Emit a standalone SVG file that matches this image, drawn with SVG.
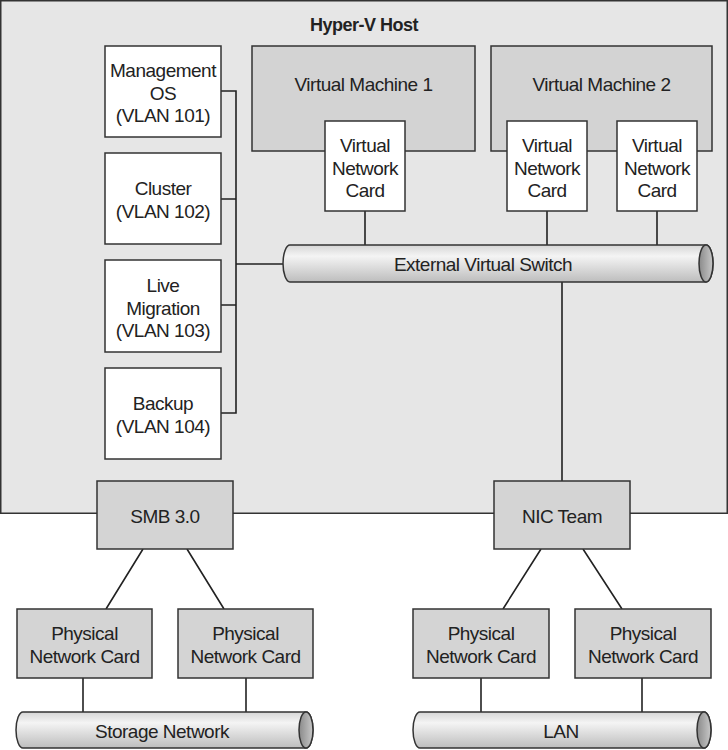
<svg xmlns="http://www.w3.org/2000/svg" width="728" height="750" viewBox="0 0 728 750">
<defs>
<linearGradient id="cyl" x1="0" y1="0" x2="0" y2="1">
<stop offset="0" stop-color="#d6d6d6"/>
<stop offset="0.3" stop-color="#f4f4f4"/>
<stop offset="1" stop-color="#bdbdbd"/>
</linearGradient>
<linearGradient id="capg" x1="0" y1="0" x2="1" y2="0">
<stop offset="0" stop-color="#8a8a8a"/>
<stop offset="1" stop-color="#c8c8c8"/>
</linearGradient>
<style>
text{font-family:"Liberation Sans",Arial,sans-serif;font-size:19px;letter-spacing:-0.5px;fill:#222;text-anchor:middle}
.b{font-weight:bold;font-size:18px}
.host{fill:#e6e6e6;stroke:#333;stroke-width:1.5}
.vm{fill:#d3d3d3;stroke:#333;stroke-width:1.5}
.w{fill:#fff;stroke:#333;stroke-width:1.5}
.g{fill:#d4d4d4;stroke:#333;stroke-width:1.5}
.cyl{fill:url(#cyl);stroke:#333;stroke-width:1.5}
.cap{fill:url(#capg);stroke:#333;stroke-width:1.5}
.ln{fill:none;stroke:#222;stroke-width:1.6}
</style>
</defs>
<g id="host">
<rect class="host" x="0.75" y="0.75" width="726.5" height="512.5"/>
<text class="b" x="364" y="31">Hyper-V Host</text>
</g>
<g id="vm1">
<rect class="vm" x="252" y="46" width="223" height="105"/>
<text x="363.5" y="91">Virtual Machine 1</text>
</g>
<g id="vm2">
<rect class="vm" x="491" y="46" width="221" height="105"/>
<text x="601.5" y="91">Virtual Machine 2</text>
</g>
<g id="connectors">
<path class="ln" d="M221 91H236V413H221M221 199H236M221 305H236M236 264H284"/>
<path class="ln" d="M365 211V245M547 211V245M657 211V245M562 282V481"/>
<path class="ln" d="M143 549L106 609M187 549L224 609M541 549L503 609M583 549L622 609"/>
<path class="ln" d="M83 678V712M246 678V712M481 678V712M642 678V712"/>
</g>
<g id="mgmt">
<rect class="w" x="105" y="46" width="116" height="91"/>
<text x="163" y="77">Management</text>
<text x="163" y="99.5">OS</text>
<text x="163" y="122">(VLAN 101)</text>
</g>
<g id="cluster">
<rect class="w" x="105" y="153" width="116" height="91"/>
<text x="163" y="195">Cluster</text>
<text x="163" y="218">(VLAN 102)</text>
</g>
<g id="livemig">
<rect class="w" x="105" y="260" width="116" height="92"/>
<text x="163" y="292">Live</text>
<text x="163" y="314.5">Migration</text>
<text x="163" y="337">(VLAN 103)</text>
</g>
<g id="backup">
<rect class="w" x="105" y="368" width="116" height="91"/>
<text x="163" y="410">Backup</text>
<text x="163" y="433">(VLAN 104)</text>
</g>
<g id="vnic1">
<rect class="w" x="325" y="121" width="80" height="90"/>
<text x="365" y="152">Virtual</text>
<text x="365" y="174.5">Network</text>
<text x="365" y="197">Card</text>
</g>
<g id="vnic2">
<rect class="w" x="507" y="121" width="80" height="90"/>
<text x="547" y="152">Virtual</text>
<text x="547" y="174.5">Network</text>
<text x="547" y="197">Card</text>
</g>
<g id="vnic3">
<rect class="w" x="617" y="121" width="80" height="90"/>
<text x="657" y="152">Virtual</text>
<text x="657" y="174.5">Network</text>
<text x="657" y="197">Card</text>
</g>
<g id="switch">
<path class="cyl" d="M290 245H706A7 18.5 0 0 1 706 282H290A7 18.5 0 0 1 290 245Z"/>
<ellipse class="cap" cx="706" cy="263.5" rx="7" ry="18.5"/>
<text x="483" y="271">External Virtual Switch</text>
</g>
<g id="smb">
<rect class="g" x="97" y="481" width="136" height="68"/>
<text x="165" y="523">SMB 3.0</text>
</g>
<g id="nicteam">
<rect class="g" x="494" y="481" width="136" height="68"/>
<text x="562" y="523">NIC Team</text>
</g>
<g id="pnic1">
<rect class="g" x="17" y="609" width="135" height="69"/>
<text x="84.5" y="640">Physical</text>
<text x="84.5" y="662.5">Network Card</text>
</g>
<g id="pnic2">
<rect class="g" x="178" y="609" width="135" height="69"/>
<text x="245.5" y="640">Physical</text>
<text x="245.5" y="662.5">Network Card</text>
</g>
<g id="pnic3">
<rect class="g" x="413" y="609" width="136" height="69"/>
<text x="481" y="640">Physical</text>
<text x="481" y="662.5">Network Card</text>
</g>
<g id="pnic4">
<rect class="g" x="575" y="609" width="136" height="69"/>
<text x="643" y="640">Physical</text>
<text x="643" y="662.5">Network Card</text>
</g>
<g id="storage">
<path class="cyl" d="M23 712H306A7 18 0 0 1 306 748H23A7 18 0 0 1 23 712Z"/>
<ellipse class="cap" cx="306" cy="730" rx="7" ry="18"/>
<text x="162" y="738">Storage Network</text>
</g>
<g id="lan">
<path class="cyl" d="M420 712H704A7 18 0 0 1 704 748H420A7 18 0 0 1 420 712Z"/>
<ellipse class="cap" cx="704" cy="730" rx="7" ry="18"/>
<text x="561" y="738">LAN</text>
</g>
</svg>
